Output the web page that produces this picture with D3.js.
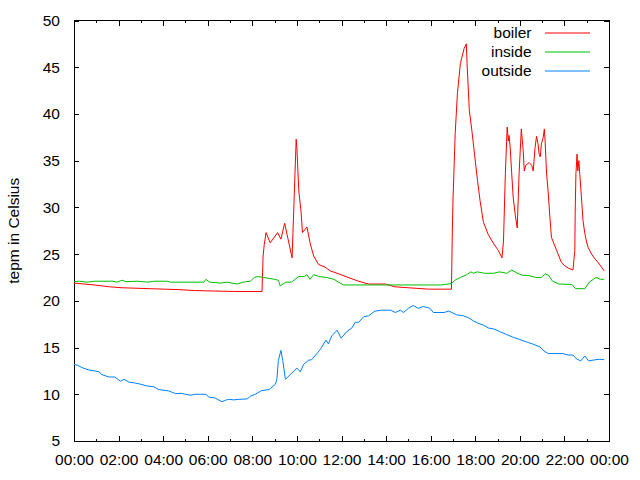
<!DOCTYPE html>
<meta charset="utf-8">
<style>
body { margin: 0; background: #fff; }
text { font-family: "Liberation Sans", Arial, sans-serif; font-size: 15.5px; fill: #000; }
.axis path { display: none; }
.axis line { stroke: #000; shape-rendering: crispEdges; }
.line { fill: none; stroke-width: 1; }
</style>
<svg width="640" height="480"></svg>
<script src="https://cdn.jsdelivr.net/npm/d3@7"></script>
<script>

// readings, one time array per series ("HH:MM")
var boilerTimes = ["00:00","00:54","01:15","01:36","02:09","03:24","04:42","05:24","07:12","08:26",
  "08:29","08:32","08:37","08:48","09:08","09:17","09:27","09:47","09:58","10:00",
  "10:05","10:11","10:15","10:27","10:36","10:45","10:58","11:16","11:30","11:52",
  "12:18","12:46","13:12","13:58","14:24","15:00","15:54","16:56","16:58","17:00",
  "17:06","17:12","17:20","17:30","17:36","17:38","17:44","17:51","17:58","18:06",
  "18:13","18:22","18:35","18:48","19:02","19:12","19:16","19:21","19:26","19:29",
  "19:31","19:34","19:42","19:48","19:53","19:58","20:04","20:06","20:09","20:12",
  "20:16","20:25","20:32","20:36","20:41","20:45","20:49","20:52","20:55","20:58",
  "21:03","21:06","21:08","21:12","21:16","21:21","21:25","21:34","21:43","21:52",
  "22:01","22:10","22:23","22:28","22:29","22:31","22:34","22:36","22:39","22:42",
  "22:47","22:50","22:55","22:59","23:04","23:13","23:22","23:31","23:40","23:47"];
var boilerTemps = [21.9,21.7,21.6,21.5,21.4,21.3,21.2,21.1,21.0,21.0,
  24.8,26.0,27.3,26.2,27.3,26.6,28.3,24.6,37.3,36.3,
  31.8,29.6,27.3,27.9,26.1,24.8,23.9,23.6,23.2,22.9,
  22.5,22.1,21.8,21.8,21.5,21.4,21.25,21.25,26.8,30.7,
  37.9,42.2,45.4,47.0,47.5,45.4,40.4,38.2,35.7,32.9,
  30.7,28.4,27.1,26.2,25.4,24.6,26.4,33.6,38.6,37.1,
  37.7,36.4,31.1,29.1,27.8,33.6,38.4,37.5,36.1,33.9,
  34.5,34.8,34.5,33.9,36.4,37.6,36.8,35.7,35.4,36.8,
  37.5,38.4,37.1,33.6,31.8,28.9,26.8,25.9,25.0,24.1,
  23.75,23.5,23.3,25.4,29.6,33.6,35.7,33.9,35.0,33.2,
  30.4,28.6,27.2,26.4,25.7,25.0,24.5,24.1,23.6,23.2];

var insideTimes = ["00:00","00:15","00:35","00:55","01:45","01:55","02:10","02:20","02:50","03:20",
  "03:35","04:10","04:20","05:50","05:55","06:05","06:35","06:50","07:20","07:35",
  "07:55","08:05","08:15","08:30","09:00","09:10","09:15","09:30","09:45","09:55",
  "10:05","10:20","10:27","10:35","10:45","11:00","11:20","11:40","11:52","12:05",
  "16:30","16:56","17:05","17:20","17:37","17:48","17:55","18:05","18:25","18:50",
  "19:05","19:25","19:38","19:52","20:05","20:25","20:43","20:58","21:08","21:18",
  "21:28","21:45","22:20","22:30","22:55","23:07","23:25","23:37","23:47"];
var insideTemps = [22.05,22.1,22.0,22.1,22.1,22.0,22.2,22.05,22.1,22.0,
  22.1,22.1,22.0,22.0,22.3,22.0,21.9,22.0,21.8,22.0,
  22.1,22.5,22.6,22.5,22.3,22.2,21.6,22.0,22.0,22.3,
  22.6,22.6,22.8,22.3,22.8,22.6,22.5,22.3,22.0,21.7,
  21.7,21.85,22.2,22.5,22.8,23.1,22.95,23.1,22.95,22.95,
  23.1,22.95,23.3,23.0,22.75,22.7,22.5,22.5,22.9,22.7,
  22.1,21.8,21.75,21.3,21.3,22.0,22.5,22.3,22.3];

var outsideTimes = ["00:00","00:10","00:22","00:40","00:55","01:07","01:15","01:34","01:50","02:05",
  "02:15","02:28","02:45","03:00","03:15","03:35","03:48","04:15","04:33","04:48",
  "05:00","05:15","05:25","05:55","06:03","06:20","06:38","06:47","06:56","07:10",
  "07:24","07:46","07:55","08:08","08:25","08:45","09:02","09:06","09:10","09:17",
  "09:22","09:29","09:42","10:00","10:09","10:18","10:31","10:40","11:03","11:18",
  "11:25","11:34","11:48","11:59","12:14","12:28","12:37","12:46","13:00","13:13",
  "13:30","13:48","14:12","14:25","14:38","14:47","15:00","15:13","15:27","15:40",
  "15:58","16:07","16:36","16:48","16:57","17:10","17:28","17:41","17:55","18:08",
  "18:22","18:35","18:53","19:06","19:24","19:42","20:00","20:18","20:36","20:54",
  "21:05","21:16","21:34","21:56","22:10","22:23","22:32","22:44","22:55","23:05",
  "23:21","23:35","23:47"];
var outsideTemps = [13.2,13.1,12.85,12.6,12.5,12.4,12.1,11.85,11.85,11.4,
  11.6,11.3,11.2,11.07,10.9,10.8,10.5,10.36,10.07,10.1,
  10.0,9.9,10.0,10.0,9.7,9.6,9.2,9.35,9.46,9.4,
  9.46,9.5,9.8,10.0,10.4,10.5,11.07,11.6,13.6,14.7,
  13.6,11.6,12.1,12.8,12.4,13.2,13.64,13.7,14.8,15.8,
  15.4,16.25,16.86,16.0,16.7,17.1,17.7,17.7,18.3,18.4,
  18.9,19.0,19.0,18.75,19.0,18.75,19.2,19.5,19.2,19.4,
  19.2,18.75,18.75,18.9,18.75,18.5,18.4,18.2,17.86,17.6,
  17.4,17.1,16.96,16.7,16.4,16.1,15.86,15.6,15.36,15.07,
  14.64,14.36,14.36,14.36,14.2,14.2,13.8,13.57,14.1,13.57,
  13.68,13.75,13.7];

var yTicks = [5, 10, 15, 20, 25, 30, 35, 40, 45, 50];
var seriesNames = ["boiler", "inside", "outside"];
var seriesColors = ["#ff0000", "#00c000", "#0080ff"];

var svg = d3.select("svg"),
    margin = {top: 20.5, right: 31, bottom: 39, left: 74},
    width = +svg.attr("width") - margin.left - margin.right,
    height = +svg.attr("height") - margin.top - margin.bottom;

var parseTime = d3.timeParse("%H:%M");
var day0 = parseTime("00:00"),
    day1 = d3.timeDay.offset(day0, 1);

var x = d3.scaleTime().domain([day0, day1]).range([0, width]),
    y = d3.scaleLinear().domain([5, 50]).range([height, 0]);

var g = svg.append("g")
    .attr("transform", "translate(" + margin.left + "," + margin.top + ")");

var fmt = d3.timeFormat("%H:%M");

// minor hourly ticks, bottom and top
g.append("g").attr("class", "axis")
    .attr("transform", "translate(0," + height + ")")
    .call(d3.axisBottom(x).ticks(d3.timeHour.every(1)).tickSize(-2.5).tickFormat(""));
g.append("g").attr("class", "axis")
    .call(d3.axisTop(x).ticks(d3.timeHour.every(1)).tickSize(-2.5).tickFormat(""));

// major ticks
g.append("g").attr("class", "axis axis--x")
    .attr("transform", "translate(0," + height + ")")
    .call(d3.axisBottom(x).ticks(d3.timeHour.every(2)).tickSize(-5).tickPadding(13).tickFormat(fmt));
g.append("g").attr("class", "axis")
    .call(d3.axisTop(x).ticks(d3.timeHour.every(2)).tickSize(-5).tickFormat(""));

g.append("g").attr("class", "axis axis--y")
    .call(d3.axisLeft(y).tickValues(yTicks).tickSize(-5).tickPadding(14));
g.append("g").attr("class", "axis")
    .attr("transform", "translate(" + width + ",0)")
    .call(d3.axisRight(y).tickValues(yTicks).tickSize(-5).tickFormat(""));

g.selectAll(".axis text").style("font-family", null).style("font-size", null).attr("fill", "#000");

g.append("rect")
    .attr("width", width)
    .attr("height", height)
    .attr("fill", "none")
    .attr("stroke", "#000")
    .attr("shape-rendering", "crispEdges");

svg.append("text")
    .attr("transform", "translate(19," + (margin.top + height / 2) + ") rotate(-90)")
    .attr("text-anchor", "middle")
    .text("tepm in Celsius");

var line = d3.line()
    .x(function(d) { return x(d.t); })
    .y(function(d) { return y(d.v); });

function pairs(times, temps) {
  return times.map(function(t, i) { return {t: parseTime(t), v: temps[i]}; });
}

var series = [
  pairs(boilerTimes, boilerTemps),
  pairs(insideTimes, insideTemps),
  pairs(outsideTimes, outsideTemps)
];

g.selectAll(".line")
  .data(series)
  .enter().append("path")
    .attr("class", "line")
    .attr("stroke", function(d, i) { return seriesColors[i]; })
    .attr("d", line);

// legend, top right inside the frame
var legend = g.selectAll(".legend")
  .data(seriesNames)
  .enter().append("g")
    .attr("class", "legend")
    .attr("transform", function(d, i) { return "translate(0," + (12.5 + i * 19) + ")"; });

legend.append("text")
    .attr("x", 457.5)
    .attr("dy", "0.35em")
    .attr("text-anchor", "end")
    .text(function(d) { return d; });

legend.append("line")
    .attr("x1", 471)
    .attr("x2", 516)
    .attr("stroke", function(d, i) { return seriesColors[i]; });

</script>
